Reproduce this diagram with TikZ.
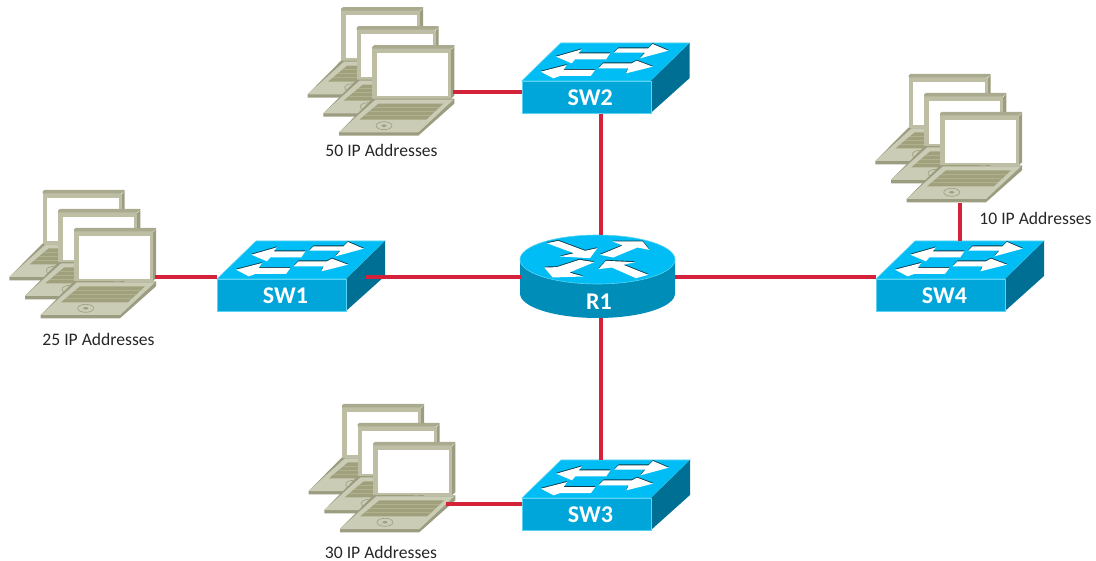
\documentclass[tikz,border=0pt]{standalone}
\usepackage{fontspec}
\setmainfont{Carlito}
\definecolor{swtop}{HTML}{00BEF5}
\definecolor{swfront}{HTML}{00A6D9}
\definecolor{swside}{HTML}{006F94}
\definecolor{swedge}{HTML}{5AD4F2}
\definecolor{rtside}{HTML}{008DB8}
\definecolor{arrowdark}{HTML}{0B3A4A}
\definecolor{lapbody}{HTML}{BDBEA3}
\definecolor{lapbase}{HTML}{CBCCB6}
\definecolor{lapdark}{HTML}{9C9D80}
\definecolor{lapkeys}{HTML}{A0A17C}
\definecolor{lapline}{HTML}{B0B18F}
\definecolor{linkred}{HTML}{D3223A}
\newcommand{\whitearrow}[1]{\fill[arrowdark,yshift=0.9pt] #1 -- cycle; \fill[white] #1 -- cycle;}
\tikzset{
  link/.style={draw=linkred,line width=3.4pt},
  iplabel/.style={font=\fontsize{17.6}{20}\selectfont,text=black!85,inner sep=0pt},
  devlabel/.style={font=\fontsize{24}{26}\selectfont\bfseries,text=white,inner sep=0pt},
  switchbox/.pic={
    \fill[swtop,draw=swedge,line width=.6pt] (0,0) -- (129,0) -- (168,-38) -- (39,-38) -- cycle;
    \fill[swside] (129,0) -- (168,-38) -- (168,-3) -- (129,32) -- cycle;
    \node[fill=swfront,draw=swedge,line width=.6pt,inner sep=0pt,minimum width=129pt,minimum height=32pt,anchor=north west] (-front) at (0,0) {};
    \node[devlabel] (-label) at (68.5,17) {\tikzpictext};
    \begin{scope}[x=0.3333pt,y=-0.3333pt,shift={(-65,-183)}]
      \whitearrow{(168,110) -- (245,88) -- (235,100) -- (330,100) -- (318,118) -- (225,118) -- (215,130)}
      \whitearrow{(505,92) -- (458,72) -- (445,85) -- (355,85) -- (342,98) -- (435,98) -- (420,115)}
      \whitearrow{(122,155) -- (200,135) -- (190,150) -- (285,150) -- (272,168) -- (180,168) -- (160,175)}
      \whitearrow{(458,140) -- (410,122) -- (395,130) -- (310,130) -- (295,145) -- (385,145) -- (378,160)}
    \end{scope}
  },
  onelaptop/.pic={
    \fill[lapdark] (78.7,3) -- (82,0) -- (82,49) -- (78.7,52) -- cycle;
    \fill[lapbody] (0,0) rectangle (78.7,52);
    \fill[lapdark!60!lapbody] (0,0) -- (2,-1.5) -- (82,-1.5) -- (82,0) -- (78.7,2) -- (0,2) -- cycle;
    \fill[white] (4.7,6.7) rectangle (76,49.7);
    \fill[lapdark] (0,52) -- (82,52) -- (82,57) -- (46,89) -- (-33.3,89) -- (-33.3,85.7) -- cycle;
    \fill[lapbase] (3,53) -- (81,53) -- (46,85.7) -- (-33.3,85.7) -- cycle;
    \fill[lapkeys] (6,57) -- (71,57) -- (54,73) -- (-13,73) -- cycle;
    \draw[lapline,line width=.6pt] (1.25,61) -- (66.75,61) (-3.5,65) -- (62.5,65) (-8.25,69) -- (58.25,69);
    \draw[lapdark,fill=lapbase,line width=.6pt] (11.7,79) ellipse (8pt and 4pt);
    \fill[lapdark] (11.7,79) ellipse (2.5pt and 1.2pt);
  },
  laptops/.pic={
    \pic at (-31.3,-38) {onelaptop};
    \pic at (-15.7,-19) {onelaptop};
    \pic at (0,0) {onelaptop};
  },
  routerbox/.pic={
    \fill[rtside] (-77.5,0) -- (-77.5,34) arc[start angle=180,end angle=360,x radius=77.5pt,y radius=24.5pt] -- (77.5,0) -- cycle;
    \fill[swtop,draw=swedge,line width=.6pt] (0,0) ellipse (77.5pt and 24.5pt);
    \node[devlabel] (-label) at (1.5,42.5) {R1};
    \begin{scope}[x=0.3333pt,y=-0.3333pt,shift={(-292.5,-104)}]
      \whitearrow{(140,55) -- (175,48) -- (255,78) -- (292,70) -- (270,100) -- (180,95) -- (222,85)}
      \whitearrow{(300,90) -- (368,62) -- (338,50) -- (428,50) -- (448,75) -- (412,68) -- (340,98)}
      \whitearrow{(133,128) -- (170,127) -- (238,105) -- (283,112) -- (208,143) -- (250,155) -- (158,158)}
      \whitearrow{(295,133) -- (318,108) -- (405,112) -- (370,120) -- (445,150) -- (408,160) -- (335,128)}
    \end{scope}
  }
}
\begin{document}
\begin{tikzpicture}[x=1pt,y=-1pt]
\useasboundingbox (0,0) rectangle (1096,561);
% devices
\pic[pic text=SW1] (sw1) at (217,279) {switchbox};
\pic[pic text=SW2] (sw2) at (521.7,81) {switchbox};
\pic[pic text=SW3] (sw3) at (522,498) {switchbox};
\pic[pic text=SW4] (sw4) at (876,279) {switchbox};
\pic (r1) at (597.5,259.5) {routerbox};
\pic (lap25) at (74,229.3) {laptops};
\pic (lap50) at (372.3,46.7) {laptops};
\pic (lap10) at (940,113.3) {laptops};
\pic (lap30) at (373.3,443.3) {laptops};
% labels
\node[iplabel] (t25) at (98.5,339) {25 IP Addresses};
\node[iplabel] (t50) at (381.5,150) {50 IP Addresses};
\node[iplabel] (t10) at (1035.5,218) {10 IP Addresses};
\node[iplabel] (t30) at (381,552) {30 IP Addresses};
% ports
\coordinate (r1n) at (601,235);
\coordinate (r1s) at (601,318);
\coordinate (r1w) at (521,277);
\coordinate (r1e) at (675,277);
\coordinate (sw1e) at (366,277);
\coordinate (sw3t) at (601,460);
\coordinate (sw4t) at (960,241);
\coordinate (p25) at (155,277);
\coordinate (p50) at (453,92);
\coordinate (p10) at (960,203);
\coordinate (p30) at (446,504);
% connectors
\draw[link] (r1n) -- (r1n |- sw2-front.south);
\draw[link] (r1s) -- (sw3t);
\draw[link] (r1w) -- (sw1e);
\draw[link] (r1e) -- (r1e -| sw4-front.west);
\draw[link] (p25) -- (p25 -| sw1-front.west);
\draw[link] (p50) -- (p50 -| sw2-front.west);
\draw[link] (p30) -- (p30 -| sw3-front.west);
\draw[link] (p10) -- (sw4t);
\end{tikzpicture}
\end{document}
